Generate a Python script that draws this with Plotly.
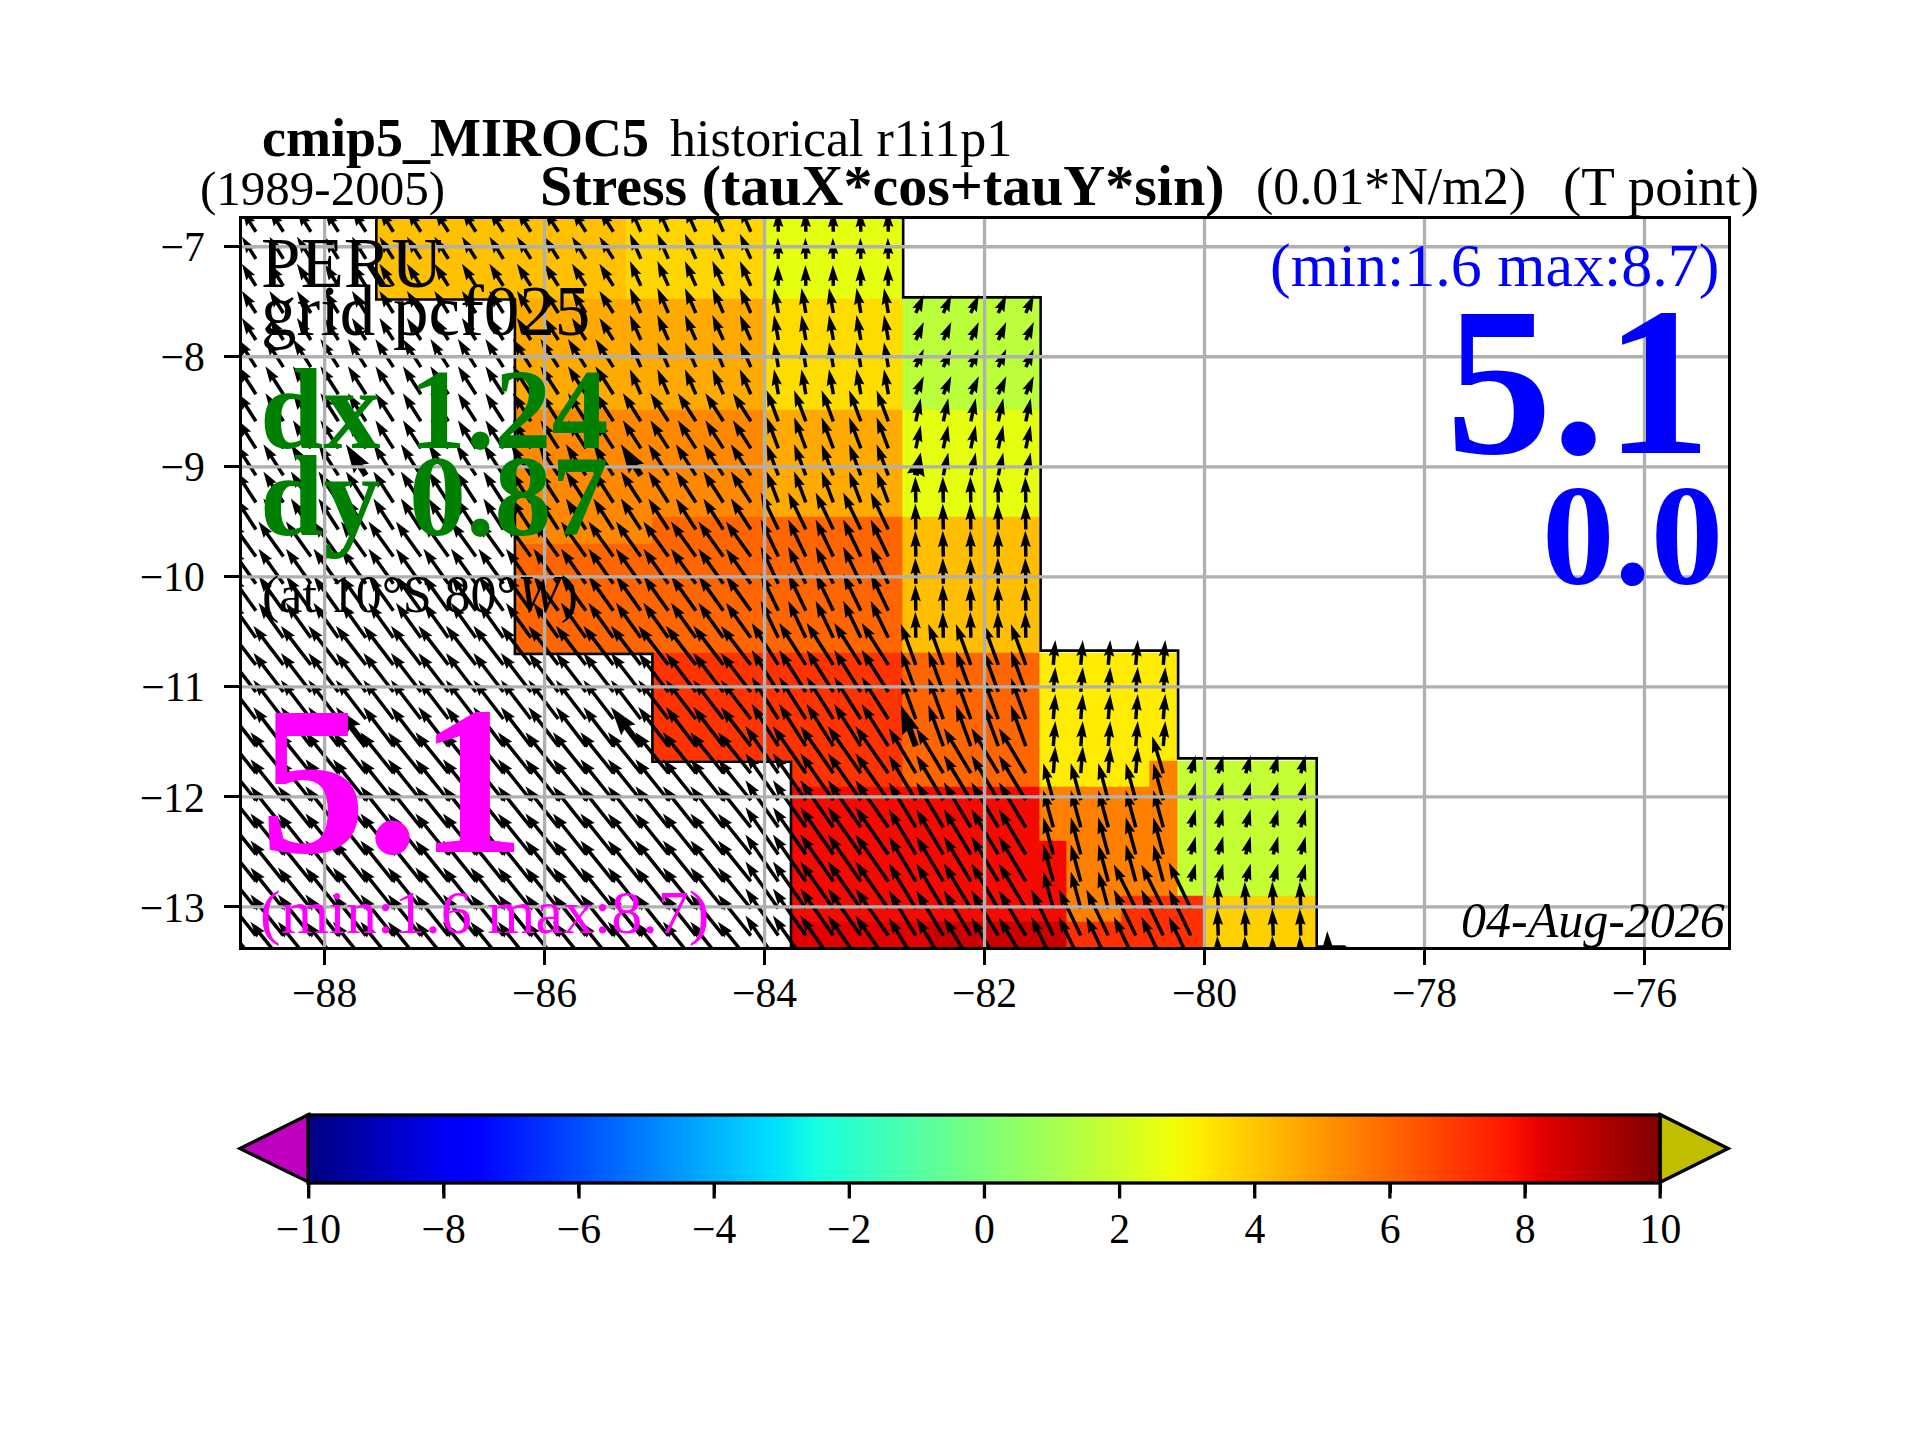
import plotly.graph_objects as go

# ---------------- data ----------------
X_TICKS = [-88, -86, -84, -82, -80, -78, -76]
Y_TICKS = [-13, -12, -11, -10, -9, -8, -7]
CB_TICKS = [-10, -8, -6, -4, -2, 0, 2, 4, 6, 8, 10]

# colour cells: edges and values (stress, 0.01 N/m2); rows listed top to bottom
X_EDGES = [-87.53, -86.27, -85.27, -85.02, -84.0, -83.76, -82.75, -82.51, -81.5, -81.26, -80.76, -80.5, -80.25, -80.0, -78.98]
Y_EDGES = [-6.70, -7.47, -8.48, -9.45, -9.70, -10.69, -11.67, -11.91, -12.40, -12.897, -13.13, -13.40]
N = None
ROW_1 = [4.13, 4.13, 3.69, 3.69, 2.58, 2.58, N, N, N, N, N, N, N, N]
ROW_2 = [N, 4.6, 4.6, 4.6, 3.54, 3.54, 1.54, 1.54, N, N, N, N, N, N]
ROW_3 = [N, 5.32, 5.32, 5.32, 4.6, 4.6, 2.58, 2.58, N, N, N, N, N, N]
ROW_4 = [N, 5.32, 5.32, 6.04, 6.04, 6.04, 4.15, 4.15, N, N, N, N, N, N]
ROW_5 = [N, 6.04, 6.04, 6.04, 6.04, 6.04, 4.15, 4.15, N, N, N, N, N, N]
ROW_6 = [N, N, N, 7.12, 7.12, 7.12, 6.06, 6.06, 3.2, 3.2, 3.2, 3.2, N, N]
ROW_7 = [N, N, N, N, N, 7.12, 6.06, 6.06, 3.2, 3.2, 3.2, 5.5, 1.76, 1.76]
ROW_8 = [N, N, N, N, N, 8.0, 8.0, 8.0, 5.5, 5.5, 5.5, 5.5, 1.76, 1.76]
ROW_9 = [N, N, N, N, N, 8.0, 8.0, 8.0, 8.0, 5.5, 5.5, 5.5, 1.76, 1.76]
ROW_10 = [N, N, N, N, N, 8.0, 8.0, 8.0, 8.0, 5.5, 7.2, 7.2, 7.2, 3.8]
ROW_11 = [N, N, N, N, N, 8.3, 8.3, 8.7, 8.7, 7.2, 7.2, 7.2, 7.2, 3.8]
ROWS = [ROW_1, ROW_2, ROW_3, ROW_4, ROW_5, ROW_6, ROW_7, ROW_8, ROW_9, ROW_10, ROW_11]

# coast outline
COAST_W_LON = [-87.53, -87.53, -86.27, -86.27, -85.02, -85.02, -83.76, -83.76]
COAST_W_LAT = [-6.74, -7.48, -7.48, -10.70, -10.70, -11.68, -11.68, -13.38]
COAST_E_LON = [-82.74, -82.74, -81.49, -81.49, -80.24, -80.24, -78.98, -78.98, -78.73, -78.70]
COAST_E_LAT = [-6.74, -7.46, -7.46, -10.67, -10.67, -11.65, -11.65, -13.36, -13.36, -13.38]

# wind stress vectors: grid of arrow tails
LON_GRID = [-88.875, -88.625, -88.375, -88.125, -87.875, -87.625, -87.375, -87.125, -86.875, -86.625,
            -86.375, -86.125, -85.875, -85.625, -85.375, -85.125, -84.875, -84.625, -84.375, -84.125,
            -83.875, -83.625, -83.375, -83.125, -82.875, -82.625, -82.375, -82.125, -81.875, -81.625,
            -81.375, -81.125, -80.875, -80.625, -80.375, -80.125, -79.875, -79.625, -79.375, -79.125, -78.875]
LAT_GRID = [-13.506, -13.260, -13.014, -12.768, -12.522, -12.276, -12.030, -11.784, -11.538, -11.292,
            -11.046, -10.800, -10.554, -10.308, -10.062, -9.816, -9.570, -9.324, -9.078, -8.832,
            -8.586, -8.340, -8.094, -7.848, -7.602, -7.356, -7.110, -6.864, -6.618]
# vector zones (later zones override earlier ones); a tail in no zone has no arrow
ZONE_W = [-89, -89, -89, -89, -89, -89, -85.25, -84, -84, -84, -84, -84, -84, -82.75, -82.75, -82.75, -82.75, -82.75,
          -81.5, -81.5, -80.5, -81.5, -80.75, -81.5, -80.25, -80.25, -80.0, -79.0]
ZONE_E = [-82.75, -82.75, -82.75, -82.75, -82.75, -82.75, -84, -82.75, -82.75, -82.75, -82.75, -82.75, -82.75, -81.5, -81.5, -81.5, -81.5, -81.5,
          -80.25, -80.25, -80.25, -80.25, -80.25, -80.25, -79.0, -80.0, -79.0, -78.75]
ZONE_S = [-7.9, -8.9, -9.6, -10.6, -11.6, -14, -8.45, -7.4, -8.45, -9.45, -10.6, -11.6, -14, -8.45, -9.2, -10.6, -11.6, -14,
          -11.7, -11.9, -11.9, -13.1, -13.1, -14, -12.9, -14, -14, -14]
ZONE_N = [-6, -7.9, -8.9, -9.6, -10.6, -11.6, -6, -6, -7.4, -8.45, -9.45, -10.6, -11.6, -7.5, -8.45, -9.2, -10.6, -11.6,
          -10.6, -11.7, -11.7, -11.9, -12.9, -13.1, -11.7, -12.9, -12.9, -13.4]
ZONE_U = [-1.94, -2.5, -2.78, -3.47, -4.17, -4.58, -1.53, -0.07, -0.6, -1.63, -2.46, -3.71, -4.58, 1.11, 0.69, -0.07, -2.08, -3.75,
          0.28, 0.28, -1.53, -1.39, -3.06, -3.06, 0.69, -3.06, -0.14, -0.14]
ZONE_V = [3.06, 3.89, 4.31, 4.86, 5.42, 5.69, 3.47, 2.92, 3.47, 4.31, 5.14, 5.83, 6.53, 2.5, 3.19, 3.61, 5.69, 6.25,
          3.47, 3.75, 5.14, 5.14, 6.11, 6.39, 2.5, 6.39, 3.75, 4.4]
# heavier arrows drawn at these tails
KEY_LON = [-87.625, -85.125, -82.625]
KEY_LAT = [-11.538, -9.078]

# ---------------- drawing constants ----------------
W, H = 1920, 1440
LW = 3.3
# frame centre lines sit at x 240..1729.5 and y 217.3..949; the plot area is inset by half the line
L, R, T, B = 240.0 + LW / 2, 1729.5 - LW / 2, 217.3 + LW / 2, 949.0 - LW / 2
XR = [-80 + (L - 1204.3) / 110.0, -80 + (R - 1204.3) / 110.0]
YR = [-13 + (907.3 - B) / 110.1, -13 + (907.3 - T) / 110.1]
FONT = "Liberation Serif"
BLACK = "#000000"
GRID = "#b0b0b0"
DEG_PER_UNIT = 0.06545   # arrow length per stress unit
PX = 1 / 110.0           # degrees per pixel
JET = [[0, "rgb(0,0,128)"], [.11, "rgb(0,0,255)"], [.125, "rgb(0,0,255)"], [.34, "rgb(0,219,255)"],
       [.35, "rgb(0,230,247)"], [.375, "rgb(21,255,226)"], [.64, "rgb(239,255,8)"], [.65, "rgb(247,246,0)"],
       [.66, "rgb(255,236,0)"], [.89, "rgb(255,19,0)"], [.91, "rgb(232,0,0)"], [1, "rgb(128,0,0)"]]
CB_LEFT, CB_RIGHT, CB_TOP, CB_BOTTOM = 308.4, 1660.0, 1115.0, 1182.7


def px(x):
    return (x - L) / (R - L)


def py(y):
    return (B - y) / (B - T)


def vector_at(lon, lat):
    found = None
    for w, e, s, n, u, v in zip(ZONE_W, ZONE_E, ZONE_S, ZONE_N, ZONE_U, ZONE_V):
        if w <= lon < e and s <= lat < n:
            found = (u, v)
    return found


def arrow_polygon(lon, lat, u, v, k=1.0):
    dx, dy = u * DEG_PER_UNIT, v * DEG_PER_UNIT
    length = (dx * dx + dy * dy) ** 0.5
    ax, ay = dx / length, dy / length
    nx, ny = -ay, ax
    sw = 1.75 * k * PX
    hw = 5.2 * k * PX
    hl = 16.5 * PX * (k if k > 1 else 1)
    ha = 14.9 * PX * (k if k > 1 else 1)
    hl = min(hl, length)
    ha = min(ha, length * 0.9)
    pts = [(0, sw), (length - ha, sw), (length - hl, hw), (length, 0),
           (length - hl, -hw), (length - ha, -sw), (0, -sw), (0, sw)]
    xs = [lon + a * ax + b * nx for a, b in pts]
    ys = [lat + a * ay + b * ny for a, b in pts]
    return xs, ys


arrow_x, arrow_y = [], []
for lat in LAT_GRID:
    for lon in LON_GRID:
        vec = vector_at(lon, lat)
        if vec is None:
            continue
        xs, ys = arrow_polygon(lon, lat, vec[0], vec[1])
        arrow_x += xs + [None]
        arrow_y += ys + [None]
for lat in KEY_LAT:
    for lon in KEY_LON:
        vec = vector_at(lon, lat)
        xs, ys = arrow_polygon(lon, lat, vec[0], vec[1], k=1.75)
        arrow_x += xs + [None]
        arrow_y += ys + [None]

fig = go.Figure()
fig.add_trace(go.Heatmap(
    x=X_EDGES, y=Y_EDGES[::-1], z=ROWS[::-1], zmin=-10, zmax=10, colorscale=JET,
    hoverongaps=False,
    colorbar=dict(
        orientation="h", lenmode="pixels", len=CB_RIGHT - CB_LEFT, thicknessmode="pixels", thickness=CB_BOTTOM - CB_TOP,
        x=px((CB_LEFT + CB_RIGHT) / 2), xanchor="center", y=py(CB_TOP), yanchor="top", xpad=0, ypad=0,
        outlinewidth=LW, outlinecolor=BLACK, ticks="outside", ticklen=8.4, tickwidth=LW, tickcolor=BLACK,
        tickmode="array", tickvals=CB_TICKS, ticktext=[str(t).replace("-", "\u2212") for t in CB_TICKS],
        tickfont=dict(family=FONT, size=41.7, color=BLACK),
    ),
))
fig.add_trace(go.Scatter(x=arrow_x, y=arrow_y, mode="lines", fill="toself", fillcolor=BLACK,
                         line=dict(color=BLACK, width=0), hoverinfo="skip", showlegend=False))
for cx, cy in ((COAST_W_LON, COAST_W_LAT), (COAST_E_LON, COAST_E_LAT)):
    fig.add_trace(go.Scatter(x=cx, y=cy, mode="lines", line=dict(color=BLACK, width=2.6),
                             hoverinfo="skip", showlegend=False))

shapes = []
for t in X_TICKS:
    shapes.append(dict(type="line", xref="x", yref="paper", x0=t, x1=t, y0=0, y1=1,
                       line=dict(color=GRID, width=LW), layer="above"))
for t in Y_TICKS:
    shapes.append(dict(type="line", xref="paper", yref="y", x0=0, x1=1, y0=t, y1=t,
                       line=dict(color=GRID, width=LW), layer="above"))
for t in CB_TICKS:
    tx = px(CB_LEFT + (t + 10) / 20 * (CB_RIGHT - CB_LEFT))
    shapes.append(dict(type="line", xref="paper", yref="paper", x0=tx, x1=tx, y0=py(CB_BOTTOM), y1=py(CB_BOTTOM + 16.3),
                       line=dict(color=BLACK, width=LW), layer="above"))
for tip, base, col in ((239.6, CB_LEFT, "#bf00bf"), (1728.0, CB_RIGHT, "#bfbf00")):
    shapes.append(dict(type="path", xref="paper", yref="paper",
                       path=f"M {px(base)} {py(CB_TOP)} L {px(tip)} {py(1149)} L {px(base)} {py(CB_BOTTOM)} Z",
                       fillcolor=col, line=dict(color=BLACK, width=LW), layer="above"))

BLUE, MAGENTA, GREEN = "#0000ff", "#ff00ff", "#008000"
anns = []


def label(text, x, baseline, size, color=BLACK, anchor="left"):
    anns.append(dict(text=text, xref="paper", yref="paper", x=px(x), y=py(baseline + 0.216 * size),
                     xanchor=anchor, yanchor="bottom", showarrow=False, borderpad=0, borderwidth=0,
                     font=dict(family=FONT, size=size, color=color)))


label("<b>cmip5_MIROC5</b>", 262, 156, 54)
label("historical r1i1p1", 670, 156, 52)
label("(1989-2005)", 200, 205, 49)
label("<b>Stress (tauX*cos+tauY*sin)</b>", 540, 205, 58)
label("(0.01*N/m2)", 1256, 205, 52)
label("(T point)", 1759, 205, 55, anchor="right")
label("PERU", 261, 287, 71)
label("grid pcf025", 261, 335, 71)
label("<b>dx 1.24</b>", 260, 448, 114, GREEN)
label("<b>dy 0.87</b>", 260, 536, 114, GREEN)
label("(at 10\u00b0S 80\u00b0<i>W</i>)", 262, 613, 52)
label("<b>5.1</b>", 260, 853, 212, MAGENTA)
label("(min:1.6 max:8.7)", 260, 934, 62, MAGENTA)
label("(min:1.6 max:8.7)", 1719, 287, 62, BLUE, "right")
label("<b>5.1</b>", 1711, 453, 212, BLUE, "right")
label("<b>0.0</b>", 1723, 584, 145, BLUE, "right")
label("<i>04-Aug-2026</i>", 1725, 938, 50, BLACK, "right")

axis_common = dict(showgrid=False, zeroline=False, showline=True, mirror=True, linewidth=LW, linecolor=BLACK,
                   ticks="outside", ticklen=14.6, tickwidth=LW, tickcolor=BLACK, layer="above traces",
                   tickfont=dict(family=FONT, size=41.7, color=BLACK))
fig.update_layout(
    width=W, height=H, paper_bgcolor="white", plot_bgcolor="white", showlegend=False,
    margin=dict(l=L, r=W - R, t=T, b=H - B, pad=0, autoexpand=False),
    xaxis=dict(range=XR, tickmode="array", tickvals=X_TICKS, ticktext=[str(t).replace("-", "\u2212") for t in X_TICKS],
               ticklabelstandoff=-8, **axis_common),
    yaxis=dict(range=YR, tickmode="array", tickvals=Y_TICKS, ticktext=[str(t).replace("-", "\u2212") for t in Y_TICKS],
               ticklabelstandoff=11, **axis_common),
    shapes=shapes, annotations=anns,
)
fig.write_html("out.html", post_script="document.body.style.margin='0';", config=dict(displayModeBar=False))
